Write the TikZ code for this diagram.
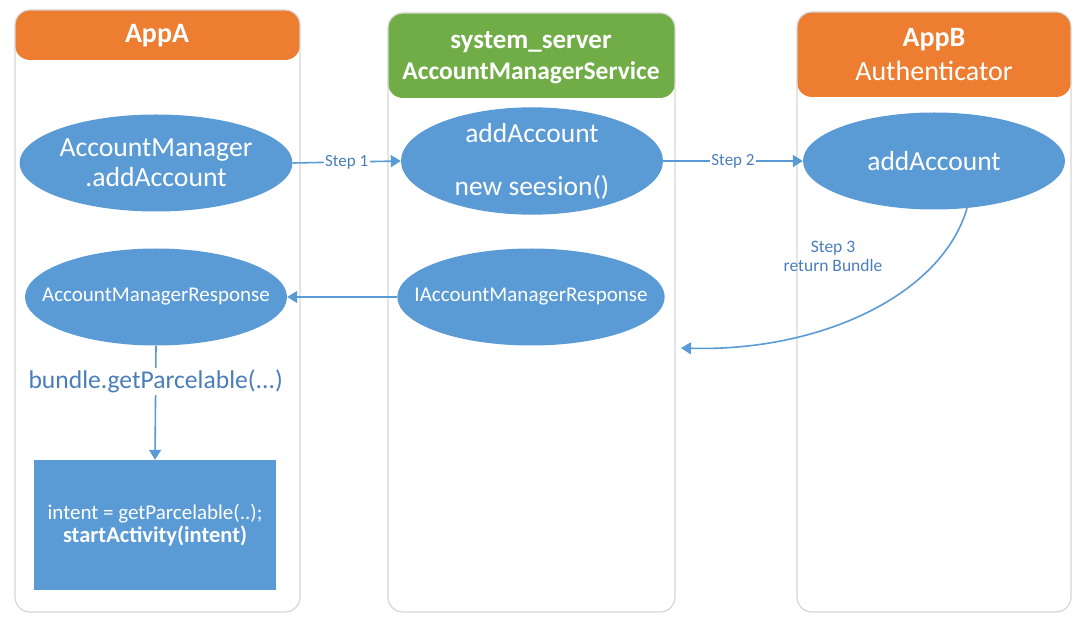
\documentclass[tikz,border=0pt]{standalone}
\usepackage{fontspec}
\setmainfont{Carlito}
\usetikzlibrary{shapes.geometric,arrows.meta}
\definecolor{hdrorange}{HTML}{ED7D31}
\definecolor{hdrgreen}{HTML}{70AD47}
\definecolor{nodeblue}{HTML}{5B9BD5}
\definecolor{lineblue}{HTML}{5B9BD5}
\definecolor{labelblue}{HTML}{4A7EBB}
\definecolor{panelgray}{HTML}{D6D6D6}
\newcommand{\fs}[1]{\fontsize{#1}{\the\dimexpr #1pt*6/5\relax}\selectfont}
\tikzset{
  panel/.style={draw=panelgray, line width=1.2pt, rounded corners=15pt, fill=white, inner sep=0pt},
  hdrtext/.style={text=white, align=center, inner sep=0pt},
  oval/.style={ellipse, fill=nodeblue, text=white, inner sep=0pt, minimum width=262pt, minimum height=97pt, align=center},
  conn/.style={draw=lineblue, line width=1.6pt, -{Triangle[width=12pt,length=10pt]}},
  steplbl/.style={text=labelblue, fill=white, inner sep=1.5pt, font=\fs{17}},
}
\begin{document}
\begin{tikzpicture}[x=1pt,y=-1pt]
\useasboundingbox (0,0) rectangle (1073,617);
% panels
\node[panel, minimum width=285pt, minimum height=602pt,
  path picture={\fill[hdrorange] (path picture bounding box.north west) rectangle ([yshift=-50pt]path picture bounding box.north east);}]
  (pA) at (157.5,311) {};
\node[panel, minimum width=287pt, minimum height=599pt,
  path picture={\fill[hdrgreen] (path picture bounding box.north west) rectangle ([yshift=-85pt]path picture bounding box.north east);}]
  (pS) at (531.5,312.5) {};
\node[panel, minimum width=274pt, minimum height=600pt,
  path picture={\fill[hdrorange] (path picture bounding box.north west) rectangle ([yshift=-85pt]path picture bounding box.north east);}]
  (pB) at (934,312) {};
% headers
\node[hdrtext, font=\bfseries\fs{28}] (hA) at (157,36) {AppA};
\node[hdrtext, font=\bfseries\fs{27}] (hS1) at (531,42) {system\_server};
\node[hdrtext, font=\bfseries\fs{25.5}] (hS2) at (531,73) {AccountManagerService};
\node[hdrtext, font=\bfseries\fs{28}] (hB1) at (934,40) {AppB};
\node[hdrtext, font=\fs{28}] (hB2) at (934,71) {Authenticator};
% ellipses
\node[oval, font=\fs{27.7}] (amAdd) at (156,163) {AccountManager\\[-3pt].addAccount};
\node[oval, font=\fs{27.5}] (ssAdd) at (532,161) {addAccount\\[20pt]new seesion()};
\node[oval, font=\fs{27.5}] (bAdd) at (934,161) {addAccount};
\node[oval, font=\fs{21}, inner xsep=-22pt] (amResp) at (156,297) {AccountManagerResponse};
\node[oval, font=\fs{21}, inner xsep=-22pt] (iamResp) at (531,297) {IAccountManagerResponse};
% rectangle
\node[rectangle, fill=nodeblue, text=white, minimum width=242pt, minimum height=130pt, inner sep=0pt, align=center, font=\fs{21}]
  (act) at (155,525) {intent = getParcelable(..);\\[-2pt]{\fs{22.5}\bfseries startActivity(intent)}};
% connectors
\draw[conn] (amAdd.east) -- node[steplbl] {Step 1} (ssAdd.west);
\draw[conn] (ssAdd.east) -- node[steplbl] {Step 2} (bAdd.west);
\draw[conn] (iamResp.west) -- (amResp.east);
\draw[conn] (amResp.south) -- node[pos=0.31, fill=white, text=labelblue, inner sep=2pt, font=\fs{25.6}] {bundle.getParcelable(...)} (act.north);
\coordinate (ret) at (681,348);
\draw[conn] (bAdd.-55) .. controls (942,295) and (820,352) .. (ret);
\node[text=labelblue, align=center, font=\fs{17.5}, inner sep=0pt] (s3) at (833,256) {Step 3\\[-2pt]return Bundle};
\end{tikzpicture}
\end{document}
